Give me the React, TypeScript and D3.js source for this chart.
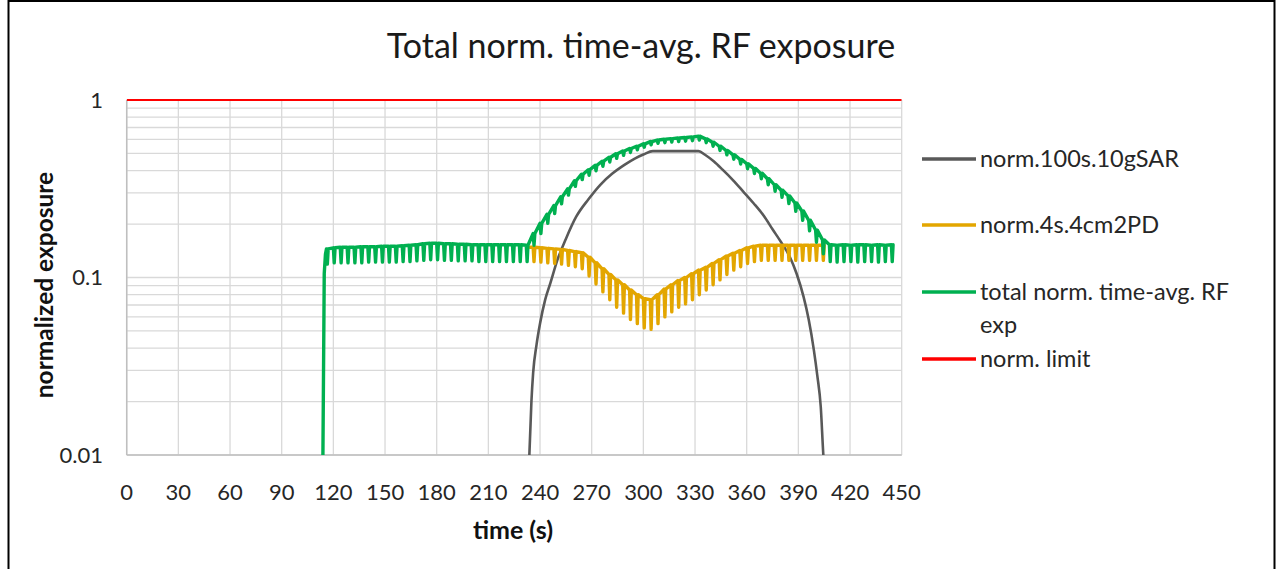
import React from "react";
import * as d3 from "d3";

const W = 1279;
const H = 569;

const xTicks = [0, 30, 60, 90, 120, 150, 180, 210, 240, 270, 300, 330, 360, 390, 420, 450];
const yMajor = [0.01, 0.1, 1];
const yTickLabels = ["0.01", "0.1", "1"];

const seriesNames = ["norm.100s.10gSAR", "norm.4s.4cm2PD", "total norm. time-avg. RF exp", "norm. limit"];
const seriesColors = ["#595959", "#E3A600", "#00B050", "#FF0000"];

// norm.100s.10gSAR: smooth bell
const sarT = [233.8, 235, 236, 238, 240, 243, 246, 250, 255, 261, 268, 275, 282, 289, 295, 300, 305.5, 332, 336, 341, 346, 352, 358, 364, 370, 375, 380, 385, 389, 393, 396, 399, 401, 403, 404.5, 405.2];
const sarV = [0.01, 0.02, 0.029, 0.042, 0.055, 0.075, 0.093, 0.125, 0.165, 0.22, 0.275, 0.333, 0.385, 0.431, 0.468, 0.493, 0.515, 0.515, 0.49, 0.45, 0.405, 0.354, 0.305, 0.262, 0.222, 0.187, 0.158, 0.131, 0.105, 0.078, 0.058, 0.039, 0.028, 0.0187, 0.01, 0.008];

// norm.4s.4cm2PD: one dip per 4 s pulse
const pdStart = [234, 0.148];
const pdT = [236, 240, 244, 248, 252, 256, 260, 264, 268, 272, 276, 280, 284, 288, 292, 296, 300, 304, 308, 312, 316, 320, 324, 328, 332, 336, 340, 344, 348, 352, 356, 360, 364, 368, 372, 376, 380, 384, 388, 392, 396, 400, 404];
const pdPeak = [0.148, 0.147, 0.146, 0.145, 0.144, 0.142, 0.14, 0.138, 0.13, 0.121, 0.112, 0.104, 0.097, 0.091, 0.085, 0.08, 0.076, 0.075, 0.08, 0.086, 0.091, 0.096, 0.1, 0.105, 0.11, 0.114, 0.12, 0.126, 0.132, 0.137, 0.142, 0.147, 0.15, 0.152, 0.152, 0.152, 0.152, 0.152, 0.152, 0.152, 0.152, 0.152, 0.152];
const pdTrough = [0.123, 0.122, 0.121, 0.12, 0.119, 0.117, 0.115, 0.112, 0.102, 0.092, 0.083, 0.075, 0.068, 0.063, 0.058, 0.055, 0.052, 0.051, 0.055, 0.06, 0.064, 0.068, 0.071, 0.075, 0.08, 0.085, 0.091, 0.097, 0.104, 0.11, 0.115, 0.12, 0.123, 0.125, 0.125, 0.125, 0.125, 0.125, 0.125, 0.125, 0.125, 0.125, 0.125];

// total norm. time-avg. RF exp
const totRiseT = [113.9, 114.7, 115.4];
const totRiseV = [0.009, 0.105, 0.135];
const totT = [
  116, 120, 124, 128, 132, 136, 140, 144, 148, 152, 156, 160, 164, 168, 172, 176, 180, 184, 188, 192, 196, 200, 204, 208, 212, 216, 220, 224, 228, 232,
  236, 240, 244, 248, 252, 256, 260, 264, 268, 272, 276, 280, 284, 288, 292, 296, 300, 304, 308, 312, 316, 320, 324, 328, 332, 336, 340, 344, 348, 352, 356, 360, 364, 368, 372, 376, 380, 384, 388, 392, 396, 400, 404,
  408, 412, 416, 420, 424, 428, 432, 436, 440, 444,
];
const totPeak = [
  0.145, 0.147, 0.148, 0.148, 0.148, 0.149, 0.149, 0.149, 0.15, 0.15, 0.15, 0.151, 0.152, 0.153, 0.155, 0.156, 0.156, 0.155, 0.155, 0.154, 0.154, 0.153, 0.153, 0.153, 0.153, 0.153, 0.153, 0.153, 0.153, 0.152,
  0.177, 0.202, 0.227, 0.254, 0.285, 0.316, 0.351, 0.382, 0.405, 0.428, 0.452, 0.476, 0.498, 0.516, 0.533, 0.549, 0.566, 0.583, 0.595, 0.601, 0.606, 0.611, 0.615, 0.62, 0.625, 0.604, 0.578, 0.549, 0.519, 0.491, 0.463, 0.437, 0.412, 0.387, 0.36, 0.333, 0.31, 0.288, 0.263, 0.237, 0.21, 0.185, 0.163,
  0.153, 0.152, 0.153, 0.152, 0.153, 0.153, 0.152, 0.153, 0.152, 0.153,
];
const totTrough = [
  0.119, 0.121, 0.121, 0.121, 0.121, 0.121, 0.122, 0.122, 0.122, 0.122, 0.122, 0.123, 0.123, 0.124, 0.125, 0.126, 0.126, 0.125, 0.125, 0.124, 0.124, 0.124, 0.123, 0.123, 0.123, 0.123, 0.123, 0.123, 0.123, 0.123,
  0.152, 0.177, 0.202, 0.229, 0.26, 0.291, 0.326, 0.356, 0.377, 0.399, 0.423, 0.447, 0.469, 0.488, 0.506, 0.524, 0.542, 0.559, 0.57, 0.575, 0.579, 0.583, 0.586, 0.59, 0.595, 0.575, 0.549, 0.52, 0.491, 0.464, 0.436, 0.41, 0.385, 0.36, 0.333, 0.306, 0.283, 0.261, 0.236, 0.21, 0.183, 0.158, 0.136,
  0.123, 0.122, 0.123, 0.123, 0.122, 0.123, 0.123, 0.122, 0.123, 0.123,
];
const totEnd = [445, 0.152];

const limitT = [0, 450];
const limitV = [1, 1];

const FONT = "Lato, 'Open Sans', sans-serif";

// each pulse: top, short dip, back to top
function pulses(ts: number[], peaks: number[], troughs: number[]): [number, number][] {
  const pts: [number, number][] = [];
  ts.forEach((t, i) => {
    pts.push([t, peaks[i]]);
    pts.push([t + 0.5, troughs[i]]);
    pts.push([t + 1, peaks[i]]);
  });
  return pts;
}

export default function App() {
  const left = 126.7, right = 901.7, top = 100, bottom = 455;
  const x = d3.scaleLinear().domain([0, 450]).range([left, right]);
  const y = d3.scaleLog().domain([0.01, 1]).range([bottom, top]);
  const line = d3.line<[number, number]>().x(d => x(d[0])).y(d => y(d[1]));
  const smooth = d3.line<[number, number]>().x(d => x(d[0])).y(d => y(d[1])).curve(d3.curveMonotoneX);

  const minor: number[] = [];
  [0.01, 0.1].forEach(b => { for (let k = 2; k <= 9; k++) minor.push(b * k); });

  const sarPts = sarT.map((t, i) => [t, sarV[i]] as [number, number]);
  const pdPts: [number, number][] = [pdStart as [number, number], ...pulses(pdT, pdPeak, pdTrough)];
  const totPts: [number, number][] = [
    ...totRiseT.map((t, i) => [t, totRiseV[i]] as [number, number]),
    ...pulses(totT, totPeak, totTrough),
    totEnd as [number, number],
  ];
  const limPts = limitT.map((t, i) => [t, limitV[i]] as [number, number]);

  const legendY = [159, 225, 292, 359];

  return (
    <div style={{ position: "absolute", left: 0, top: 0, width: W, height: H, background: "#fff" }}>
      <svg width={W} height={H} style={{ display: "block" }} fontFamily={FONT}>
        <defs>
          <clipPath id="plot">
            <rect x={left} y={top - 4} width={right - left} height={bottom - top + 4} />
          </clipPath>
        </defs>
        <rect width={W} height={H} fill="#fff" />
        <path d={`M8.5,${H} V1 H1274.5 V${H}`} fill="none" stroke="#000" strokeWidth={2} />

        <text x={641} y={58} textAnchor="middle" fontSize={34} fill="#1a1a1a">Total norm. time-avg. RF exposure</text>

        {/* grid */}
        {minor.map(v => (
          <line key={"m" + v} x1={left} x2={right} y1={y(v)} y2={y(v)} stroke="#D9D9D9" strokeWidth={1.3} />
        ))}
        {yMajor.map(v => (
          <line key={"M" + v} x1={left} x2={right} y1={y(v)} y2={y(v)} stroke="#D9D9D9" strokeWidth={1.3} />
        ))}
        {xTicks.map(t => (
          <line key={"x" + t} x1={x(t)} x2={x(t)} y1={top} y2={bottom} stroke="#D9D9D9" strokeWidth={1.3} />
        ))}
        <line x1={left} x2={left} y1={top} y2={bottom} stroke="#BFBFBF" strokeWidth={1.5} />
        <line x1={left} x2={right} y1={bottom} y2={bottom} stroke="#BFBFBF" strokeWidth={1.5} />

        {/* series */}
        <g clipPath="url(#plot)" fill="none" strokeLinejoin="round" strokeLinecap="round">
          <path d={smooth(sarPts) || ""} stroke={seriesColors[0]} strokeWidth={2.6} />
          <path d={line(pdPts) || ""} stroke={seriesColors[1]} strokeWidth={3.4} />
          <path d={line(totPts) || ""} stroke={seriesColors[2]} strokeWidth={3.4} />
          <path d={line(limPts) || ""} stroke={seriesColors[3]} strokeWidth={2.2} strokeLinecap="butt" />
        </g>

        {/* axes labels */}
        {yMajor.map((v, i) => (
          <text key={"yl" + v} x={103} y={y(v)} dy="0.35em" textAnchor="end" fontSize={22} fill="#262626">{yTickLabels[i]}</text>
        ))}
        {xTicks.map(t => (
          <text key={"xl" + t} x={x(t)} y={492} dy="0.35em" textAnchor="middle" fontSize={22} fill="#262626">{t}</text>
        ))}
        <text x={513} y={530} dy="0.35em" textAnchor="middle" fontSize={25} fontWeight="bold" fill="#111">time (s)</text>
        <text transform={`translate(44,285) rotate(-90)`} dy="0.35em" textAnchor="middle" fontSize={24.5} fontWeight="bold" fill="#111">normalized exposure</text>

        {/* legend */}
        {seriesNames.map((name, i) => {
          const ly = legendY[i];
          const parts = i === 2 ? ["total norm. time-avg. RF", "exp"] : [name];
          return (
            <g key={name}>
              <line x1={922} x2={976} y1={ly} y2={ly} stroke={seriesColors[i]} strokeWidth={3.4} />
              {parts.map((p, j) => (
                <text key={p} x={980} y={ly + j * 33} dy="0.35em" fontSize={23.5} fill="#262626">{p}</text>
              ))}
            </g>
          );
        })}
      </svg>
    </div>
  );
}
